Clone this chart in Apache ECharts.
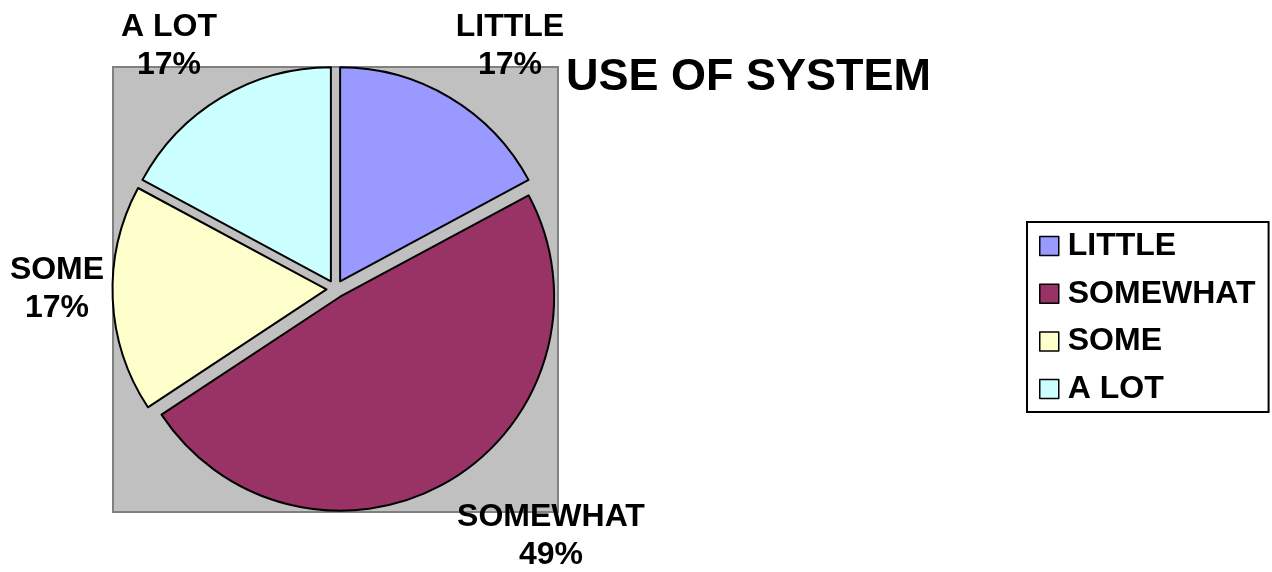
<!DOCTYPE html>
<html>
<head>
<meta charset="utf-8">
<script src="https://cdn.jsdelivr.net/npm/echarts@6/dist/echarts.min.js"></script>
<style>
html,body{margin:0;padding:0;background:#fff;}
#chart{width:1272px;height:572px;}
</style>
</head>
<body>
<div id="chart"></div>
<script>
const title = 'USE OF SYSTEM';
const categories = ['LITTLE', 'SOMEWHAT', 'SOME', 'A LOT'];
const values = [6, 17, 6, 6];
const colors = ['#9999FF', '#993366', '#FFFFCC', '#CCFFFF'];

const FONT = '"Liberation Sans", Arial, sans-serif';
const cx = 335.5, cy = 289, R = 214;
// data-label anchor centres (px), one per slice
const labelPos = [[510, 46], [551, 536], [57, 289], [169, 46]];

const total = values.reduce(function (a, b) { return a + b; }, 0);
const pct = values.map(function (v) { return Math.round(v / total * 100) + '%'; });

const chart = echarts.init(document.getElementById('chart'), null, {renderer: 'canvas'});
const labelGraphics = categories.map(function (c, i) {
  return {
    type: 'text', z: 100,
    x: labelPos[i][0], y: labelPos[i][1],
    style: {
      text: c + '\n' + pct[i],
      font: 'bold 32px ' + FONT,
      lineHeight: 38,
      fill: '#000',
      align: 'center',
      verticalAlign: 'middle'
    }
  };
});

const option = {
  backgroundColor: '#ffffff',
  animation: false,
  title: {
    text: title,
    left: 566, top: 55,
    padding: 0,
    textStyle: {fontFamily: FONT, fontSize: 45, fontWeight: 'bold', color: '#000'}
  },
  graphic: [{
    type: 'rect', z: -10,
    shape: {x: 113, y: 67, width: 445, height: 445},
    style: {fill: '#C0C0C0', stroke: '#808080', lineWidth: 2}
  }].concat(labelGraphics),
  legend: {
    orient: 'vertical',
    left: 1027, top: 222,
    padding: [8, 13, 7, 12],
    itemGap: 15.7,
    itemWidth: 19, itemHeight: 19,
    icon: 'rect',
    borderColor: '#000', borderWidth: 2,
    backgroundColor: '#fff',
    itemStyle: {borderColor: '#000', borderWidth: 1.5},
    textStyle: {fontFamily: FONT, fontSize: 32, fontWeight: 'bold', color: '#000', lineHeight: 31, padding: [0, 0, 0, 4]},
    data: categories
  },
  series: [{
    type: 'pie',
    center: [cx, cy],
    radius: R,
    startAngle: 90,
    clockwise: true,
    selectedMode: 'multiple',
    selectedOffset: 9,
    itemStyle: {borderColor: '#000', borderWidth: 2},
    emphasis: {disabled: true},
    select: {itemStyle: {borderColor: '#000', borderWidth: 2}},
    label: {show: false},
    labelLine: {show: false},
    data: categories.map(function (c, i) {
      return {name: c, value: values[i], selected: true, itemStyle: {color: colors[i]}};
    })
  }]
};
chart.setOption(option);
</script>
</body>
</html>
